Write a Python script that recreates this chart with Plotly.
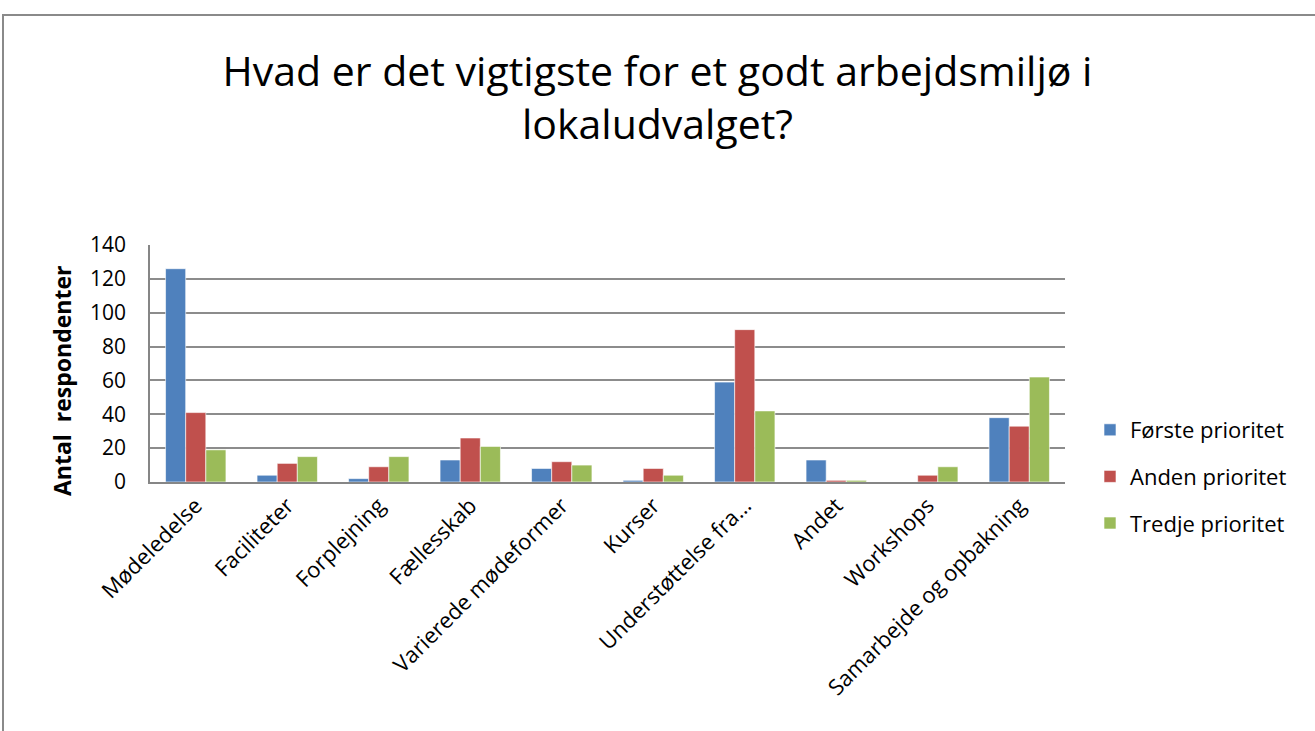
import plotly.graph_objects as go

categories = ["Mødeledelse", "Faciliteter", "Forplejning", "Fællesskab", "Varierede mødeformer",
              "Kurser", "Understøttelse fra…", "Andet", "Workshops", "Samarbejde og opbakning"]
forste = [126, 4, 2, 13, 8, 1, 59, 13, 0, 38]
anden = [41, 11, 9, 26, 12, 8, 90, 1, 4, 33]
tredje = [19, 15, 15, 21, 10, 4, 42, 1, 9, 62]
series_names = ["Første prioritet", "Anden prioritet", "Tredje prioritet"]
colors = ["#4F81BD", "#C0504D", "#9BBB59"]
y_ticks = [0, 20, 40, 60, 80, 100, 120, 140]

FONT = "Open Sans"
fig = go.Figure()
for i, (name, vals, col) in enumerate(zip(series_names, [forste, anden, tredje], colors)):
    fig.add_trace(go.Bar(x=categories, y=vals, name=name, marker_color=col,
                         marker_line=dict(color="rgba(255,255,255,0.6)", width=1),
                         legendgroup=str(i)))

L, R, T, B = 150, 250, 245, 249
W, H = 1315, 731
pw, ph = W - L - R, H - T - B

fig.update_layout(
    width=W, height=H,
    margin=dict(l=L, r=R, t=T, b=B),
    paper_bgcolor="white", plot_bgcolor="white",
    font=dict(family=FONT, color="black", size=20),
    title=dict(text="Hvad er det vigtigste for et godt arbejdsmiljø i<br>lokaludvalget?",
               x=0.5, xanchor="center", y=1 - 86 / H, yanchor="middle",
               font=dict(size=41, family=FONT)),
    barmode="group", bargap=0.34, bargroupgap=0,
    showlegend=True,
    legend=dict(x=(1090 - L) / pw, y=(482 - 409) / ph, xanchor="left", yanchor="top",
                font=dict(size=22), tracegroupgap=15, traceorder="grouped",
                itemwidth=30),
    xaxis=dict(tickangle=-45, showline=True, linecolor="#868686", linewidth=2,
               ticks="", tickfont=dict(size=22), showgrid=False, mirror=False),
    yaxis=dict(range=[0, 140], tickvals=y_ticks, showline=True, linecolor="#868686",
               linewidth=1.5, showgrid=True, gridcolor="#8c8c8c", gridwidth=2,
               tickfont=dict(size=21), zeroline=False, ticks="", ticklabelstandoff=18),
    annotations=[dict(text="<b>Antal  respondenter</b>", textangle=-90, showarrow=False,
                      xref="paper", yref="paper", x=(62 - L) / pw, y=(482 - 381) / ph,
                      xanchor="center", yanchor="middle", font=dict(size=23))],
)

fig.add_shape(type="rect", xref="paper", yref="paper",
              x0=(3 - L) / pw, x1=(1330 - L) / pw,
              y0=(482 - 760) / ph, y1=(482 - 15) / ph,
              line=dict(color="#8a8a8a", width=2), fillcolor="rgba(0,0,0,0)", layer="below")

fig.write_html("out.html", config={"displayModeBar": False},
               post_script="document.body.style.margin='0';document.body.style.overflow='hidden';")
